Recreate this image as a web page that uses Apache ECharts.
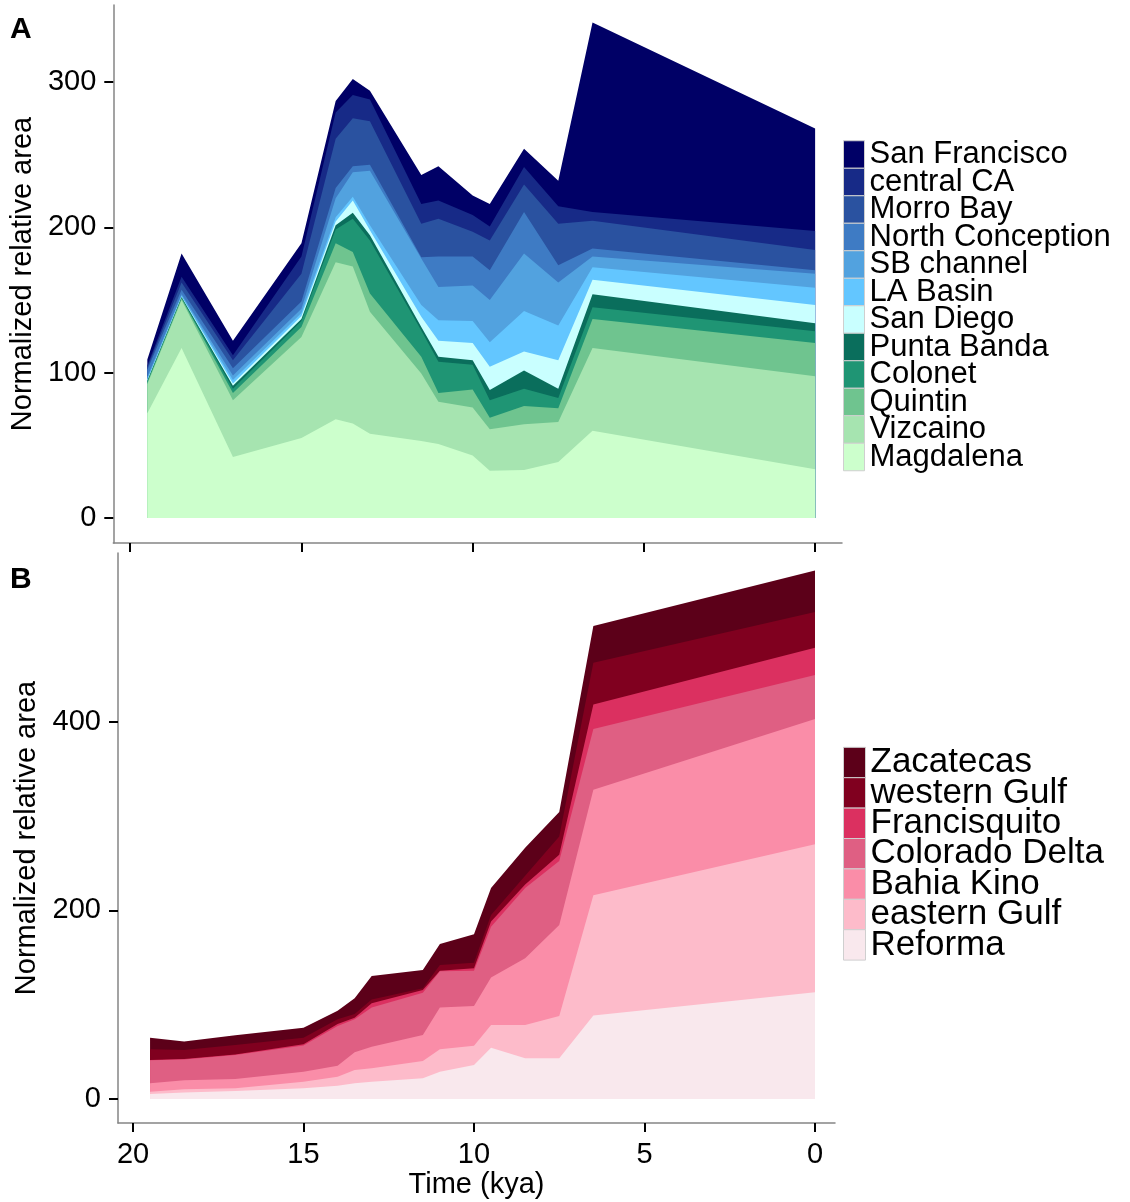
<!DOCTYPE html>
<html>
<head>
<meta charset="utf-8">
<script src="https://cdn.jsdelivr.net/npm/echarts@6/dist/echarts.min.js"></script>
<style>
  html, body { margin: 0; padding: 0; background: #fff; }
  #chart { width: 1130px; height: 1202px; }
</style>
</head>
<body>
<div id="chart"></div>
<script>
// ---- shared x values (kya) ----
const timeKya = [19.5, 18.5, 17, 15, 14, 13.5, 13, 11.5, 11, 10, 9.5, 8.5, 7.5, 6.5, 0];

// ---- Panel A (Pacific coast), bottom of stack first ----
const magdalena      = [72, 117, 42, 55, 68, 65, 58, 53, 51, 43, 32.5, 33, 38.5, 60, 33.5];
const vizcaino       = [20, 33, 39, 69.5, 108, 108, 84, 46.5, 29, 33, 28.5, 31.5, 27.5, 57, 64];
const quintin        = [1, 1, 5, 7, 13, 10, 12.5, 11.5, 6, 12.5, 8, 12.5, 9.5, 20, 23];
const colonet        = [1, 0.5, 3, 4, 9.5, 23, 36.5, 18, 21.5, 17, 12, 12, 7, 8, 8];
const puntaBanda     = [0.5, 0.5, 2, 1.5, 3, 4, 3.5, 2.5, 3.5, 3, 7, 12.5, 6.5, 9, 5.5];
const sanDiego       = [0.5, 0.5, 1.5, 2, 2.5, 8.5, 3.5, 7, 11, 12, 16, 13, 19.5, 10, 12.5];
const laBasin        = [0.5, 0.5, 2.5, 2, 3, 2.5, 3.5, 8, 14, 15, 17, 28, 24, 8.5, 12];
const sbChannel      = [1.5, 1, 3, 3, 13, 17, 37.5, 32, 23, 24.5, 29, 39.5, 29.5, 7.5, 9.5];
const northConcept   = [5, 3, 5, 5, 7, 4, 4, 1, 21, 20, 20.5, 28.5, 12, 5.5, 2.5];
const morroBay       = [1.5, 5, 5.5, 19, 34, 33, 30, 23, 26, 17, 20.5, 19, 28.5, 19, 14];
const centralCA      = [1.5, 4, 3.5, 12, 18, 16, 15, 13.5, 12.5, 11.5, 9.5, 12, 12, 6, 13];
const sanFrancisco   = [4, 16, 10, 9, 8, 11, 6, 20, 23.5, 13.5, 15.5, 12.5, 17.5, 130.5, 70.5];

// ---- Panel B (Gulf of California), bottom of stack first ----
const reforma        = [5.3, 7, 8.5, 11.3, 14.1, 16.6, 18.4, 21.9, 29, 36, 54.4, 43.3, 43.3, 88.7, 113.2];
const easternGulf    = [2.5, 3.3, 2.8, 7.1, 9.6, 14.2, 14.1, 18.4, 23.7, 20.5, 24.2, 35.3, 44.7, 127.6, 157.1];
const bahiaKino      = [8.8, 9.5, 9.9, 10.6, 11.7, 18.7, 23, 27.6, 44.5, 42.2, 50.3, 70.8, 96.7, 111.7, 133];
const coloradoDelta  = [24.4, 22.2, 25.5, 27.8, 42.1, 35, 41.7, 44.9, 38.3, 37.5, 53.9, 74.5, 67.8, 64.5, 46.5];
const francisquito   = [0.5, 0.5, 0.5, 1.2, 2.1, 1.8, 4.3, 2.9, 0.7, 2.4, 5.6, 3.6, 6.7, 26, 29];
const westernGulf    = [11.2, 9.5, 10.1, 7, 4.9, 3.9, 4.2, 1.7, 6, 6, 6.7, 9.3, 19.3, 44.3, 38];
const zacatecas      = [12.3, 9, 10.3, 10.7, 9.2, 16.6, 24.8, 19.5, 22.3, 30.1, 28.8, 29.8, 26.1, 39.1, 43.9];

// ---- names / colours / ticks ----
const namesA  = ['Magdalena','Vizcaino','Quintin','Colonet','Punta Banda','San Diego','LA Basin','SB channel','North Conception','Morro Bay','central CA','San Francisco'];
const valuesA = [magdalena, vizcaino, quintin, colonet, puntaBanda, sanDiego, laBasin, sbChannel, northConcept, morroBay, centralCA, sanFrancisco];
const colorsA = ['#CCFFCC','#A6E4B0','#6FC48F','#1F9574','#0A6E5C','#C9FFFF','#63C6FF','#52A2DF','#3E7BC4','#2A52A0','#172A87','#000066'];

const namesB  = ['Reforma','eastern Gulf','Bahia Kino','Colorado Delta','Francisquito','western Gulf','Zacatecas'];
const valuesB = [reforma, easternGulf, bahiaKino, coloradoDelta, francisquito, westernGulf, zacatecas];
const colorsB = ['#F9E8ED','#FDBBCA','#FA8DA8','#DF5F83','#DB3060','#80001F','#5C0019'];

const xTicks  = [0, 5, 10, 15, 20];
const yTicksA = [0, 100, 200, 300];
const yTicksB = [0, 200, 400];

const FONT = "'Liberation Sans', Arial, Helvetica, sans-serif";

// Stacked areas: each layer is filled from 0 up to its cumulative top;
// layers are drawn from the top of the stack downward so lower ones overlay.
function stackedSeries(names, values, colors, idx) {
  const out = [];
  let running = timeKya.map(() => 0);
  const tops = values.map(vals => {
    running = running.map((r, i) => r + vals[i]);
    return running.slice();
  });
  for (let k = names.length - 1; k >= 0; k--) {
    const color = colors[k];
    out.push({
      name: names[k], type: 'line', xAxisIndex: idx, yAxisIndex: idx,
      symbol: 'none', silent: true, color,
      data: timeKya.map((t, i) => [t, tops[k][i]]),
      lineStyle: { width: 0, color },
      itemStyle: { color },
      areaStyle: { color, opacity: 1, origin: 'auto' },
      emphasis: { disabled: true }
    });
  }
  return out;
}

const series = stackedSeries(namesA, valuesA, colorsA, 0).concat(stackedSeries(namesB, valuesB, colorsB, 1));

const axisLine = { show: true, onZero: false, lineStyle: { color: '#858585', width: 1.5 } };
function tick(vals) { return { show: true, length: 9, customValues: vals, lineStyle: { color: '#000', width: 2 } }; }

const chart = echarts.init(document.getElementById('chart'), null, { renderer: 'canvas' });
chart.setOption({
  animation: false,
  backgroundColor: '#fff',
  textStyle: { fontFamily: FONT },
  grid: [
    { left: 110, top: 5, width: 732, height: 538 },
    { left: 118, top: 553, width: 717, height: 570 }
  ],
  xAxis: [
    { gridIndex: 0, type: 'value', inverse: true, min: -0.785, max: 20.494,
      axisLine, axisTick: tick(xTicks), axisLabel: { show: false }, splitLine: { show: false } },
    { gridIndex: 1, type: 'value', inverse: true, min: -0.5865, max: 20.44,
      axisLine, axisTick: tick(xTicks),
      axisLabel: { customValues: xTicks, fontSize: 29, color: '#000', margin: 17, fontFamily: FONT },
      splitLine: { show: false },
      name: 'Time (kya)', nameLocation: 'middle', nameGap: 47,
      nameTextStyle: { fontSize: 29, color: '#000', fontFamily: FONT } }
  ],
  yAxis: [
    { gridIndex: 0, type: 'value', min: -17.2, max: 353,
      axisLine, axisTick: tick(yTicksA),
      axisLabel: { customValues: yTicksA, fontSize: 29, color: '#000', margin: 17, fontFamily: FONT },
      splitLine: { show: false },
      name: 'Normalized relative area', nameLocation: 'middle', nameGap: 67,
      nameTextStyle: { fontSize: 29, color: '#000', fontFamily: FONT } },
    { gridIndex: 1, type: 'value', min: -25.46, max: 579.3,
      axisLine, axisTick: tick(yTicksB),
      axisLabel: { customValues: yTicksB, fontSize: 29, color: '#000', margin: 17, fontFamily: FONT },
      splitLine: { show: false },
      name: 'Normalized relative area', nameLocation: 'middle', nameGap: 70,
      nameTextStyle: { fontSize: 29, color: '#000', fontFamily: FONT } }
  ],
  legend: [
    { data: namesA.slice().reverse(), left: 843, top: 139, padding: 0,
      orient: 'vertical', icon: 'rect', itemWidth: 21, itemHeight: 27.5, itemGap: -3.5,
      selectedMode: false,
      itemStyle: { borderColor: '#cfcfcf', borderWidth: 1 },
      textStyle: { fontSize: 31, color: '#000', fontFamily: FONT } },
    { data: namesB.slice().reverse(), left: 843, top: 745, padding: 0,
      orient: 'vertical', icon: 'rect', itemWidth: 22, itemHeight: 30.4, itemGap: -4.6,
      selectedMode: false,
      itemStyle: { borderColor: '#cfcfcf', borderWidth: 1 },
      textStyle: { fontSize: 35, color: '#000', fontFamily: FONT } }
  ],
  graphic: [
    { type: 'text', left: 10, top: 15, style: { text: 'A', fontSize: 30, fontWeight: 'bold', fill: '#000', fontFamily: FONT } },
    { type: 'text', left: 10, top: 565, style: { text: 'B', fontSize: 30, fontWeight: 'bold', fill: '#000', fontFamily: FONT } }
  ],
  series
});
</script>
</body>
</html>
